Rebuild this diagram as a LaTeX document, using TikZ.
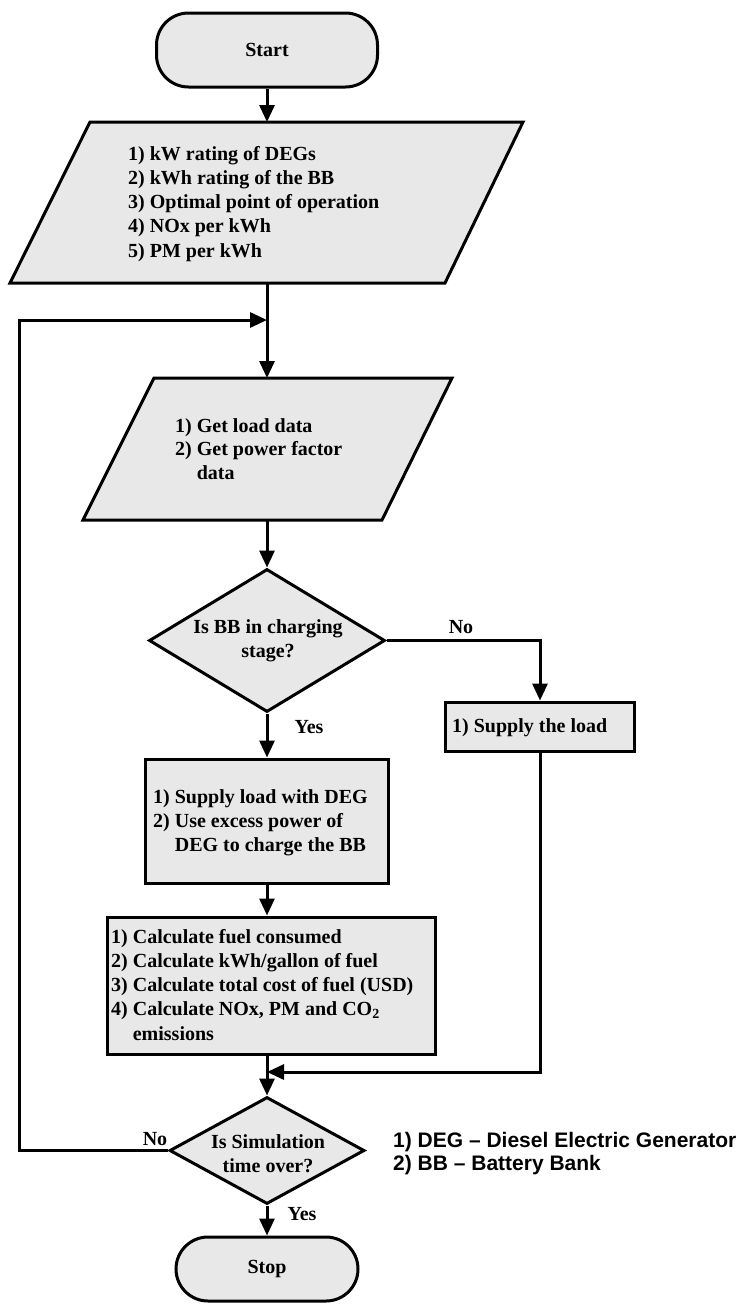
\documentclass[tikz,border=0pt]{standalone}
\usepackage{fontspec}
\setmainfont{Liberation Serif}
\newfontfamily\legendfont{Liberation Sans}
\usetikzlibrary{arrows.meta,shapes.geometric}
\begin{document}
\begin{tikzpicture}[x=1pt,y=-1pt,line join=miter,
  shapeline/.style={draw=black, line width=3pt, fill=black!9},
  flow/.style={line width=3pt, -{Triangle[length=17pt,width=15pt]}},
  termbox/.style={shapeline, rectangle, rounded corners=32pt, inner sep=0pt, font=\bfseries\fontsize{20}{24}\selectfont},
  procbox/.style={shapeline, rectangle, inner sep=0pt},
  decbox/.style={shapeline, diamond, inner sep=0pt},
  txt/.style={inner sep=0pt, anchor=base west, font=\bfseries\fontsize{20}{24.25}\selectfont},
  txtb/.style={inner sep=0pt, anchor=base west, font=\bfseries\fontsize{20}{23.5}\selectfont},
  ctxt/.style={inner sep=0pt, anchor=base, font=\bfseries\fontsize{20}{24.5}\selectfont},
  lbl/.style={inner sep=0pt, anchor=base, font=\bfseries\fontsize{20}{24}\selectfont},
  legend/.style={inner sep=0pt, anchor=base west, font=\legendfont\bfseries\fontsize{21}{23}\selectfont}]
\useasboundingbox (0,0) rectangle (739,1310);

% Start
\node[termbox, minimum width=221pt, minimum height=74pt] (start) at (267,50) {Start};

% Input 1
\draw[shapeline] (90,122) -- (523,122) -- (445,283) -- (10,283) -- cycle;
\coordinate (in1top) at (267,122);
\coordinate (in1bot) at (267,283);
\node[txt] (in1t) at (128,160) {\begin{tabular}[t]{@{}l@{}}1) kW rating of DEGs\\ 2) kWh rating of the BB\\ 3) Optimal point of operation\\ 4) NOx per kWh\\ 5) PM per kWh\end{tabular}};

% Input 2
\draw[shapeline] (154,378) -- (452,378) -- (382,520) -- (83,520) -- cycle;
\coordinate (in2top) at (267,378);
\coordinate (in2bot) at (267,520);
\coordinate (loopjoin) at (267,320);
\node[txtb] (in2t) at (175,432) {\begin{tabular}[t]{@{}l@{}}1) Get load data\\ 2) Get power factor\\ \hphantom{2) }data\end{tabular}};

% Decision 1
\node[decbox, minimum width=236pt, minimum height=143pt] (dec1) at (267,640.5) {};
\node[ctxt] (dec1t) at (268,633) {\begin{tabular}[t]{@{}c@{}}Is BB in charging\\ stage?\end{tabular}};
\node[lbl] (no1) at (461,633) {No};
\node[lbl] (yes1) at (309,733) {Yes};

% Supply the load
\node[procbox, minimum width=189pt, minimum height=49pt] (supply) at (540,726.5) {};
\node[txt] (supplyt) at (452,732) {1) Supply the load};
\coordinate (nobend) at (540,640.5);

% DEG box
\node[procbox, minimum width=243pt, minimum height=124pt] (deg) at (267,821) {};
\node[txt] (degt) at (153,803) {\begin{tabular}[t]{@{}l@{}}1) Supply load with DEG\\ 2) Use excess power of\\ \hphantom{2) }DEG to charge the BB\end{tabular}};

% Calculation box
\node[procbox, minimum width=328pt, minimum height=137pt] (calc) at (271,985.5) {};
\node[txt] (calct) at (111,943) {\begin{tabular}[t]{@{}l@{}}1) Calculate fuel consumed\\ 2) Calculate kWh/gallon of fuel\\ 3) Calculate total cost of fuel (USD)\\ 4) Calculate NOx, PM and CO\textsubscript{2}\\ \hphantom{4) }emissions\end{tabular}};

% Decision 2
\node[decbox, minimum width=195pt, minimum height=107pt] (dec2) at (267,1150.5) {};
\node[ctxt] (dec2t) at (268,1148) {\begin{tabular}[t]{@{}c@{}}Is Simulation\\ time over?\end{tabular}};
\node[lbl] (no2) at (155,1145) {No};
\node[lbl] (yes2) at (302,1220) {Yes};
\coordinate (join) at (267,1072);
\coordinate (loopa) at (19,1150.5);
\coordinate (loopb) at (19,320);

% Stop
\node[termbox, minimum width=182pt, minimum height=64pt] (stop) at (267,1269) {Stop};

% Legend
\node[legend] (leg1) at (393,1147) {1) DEG – Diesel Electric Generator};
\node[legend] (leg2) at (393,1170) {2) BB – Battery Bank};

% Connectors
\draw[flow] (start.south) -- (in1top);
\draw[flow] (in1bot) -- (in2top);
\draw[flow] (in2bot) -- (dec1.north);
\draw[flow] (dec1.east) -- (nobend) -- (supply.north);
\draw[flow] (dec1.south) -- (deg.north);
\draw[flow] (deg.south) -- (deg.south |- calc.north);
\draw[flow] (deg.south |- calc.south) -- (dec2.north);
\draw[flow] (supply.south) -- (supply.south |- join) -- (join);
\draw[flow] (dec2.west) -- (loopa) -- (loopb) -- (loopjoin);
\draw[flow] (dec2.south) -- (stop.north);
\end{tikzpicture}
\end{document}
